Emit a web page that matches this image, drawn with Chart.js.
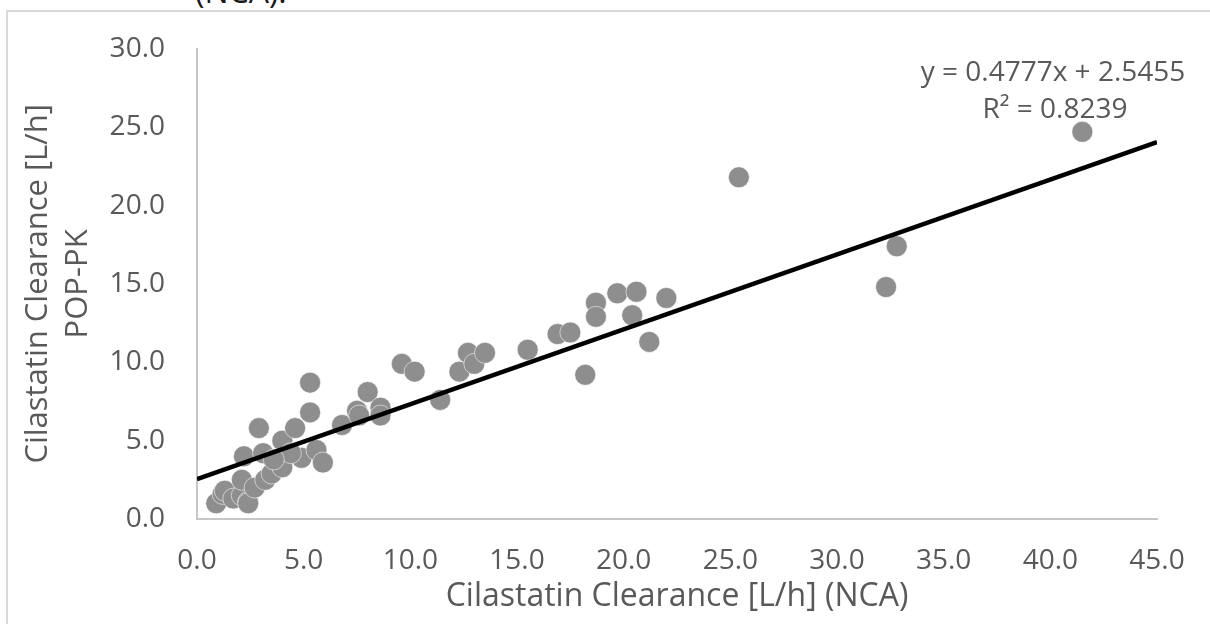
<!DOCTYPE html>
<html>
<head>
<meta charset="utf-8">
<script src="https://cdn.jsdelivr.net/npm/chart.js@4.4.1/dist/chart.umd.min.js"></script>
<style>
    html, body { margin: 0; padding: 0; background: #fff; overflow: hidden; }
    #frame {
        position: absolute; left: 6px; top: 10px; width: 1300px; height: 700px;
        border: 2px solid #d9d9d9;
    }
    #caption {
        position: absolute; left: 195px; top: -25px; margin: 0;
        font: 32px/32px "Open Sans", sans-serif; color: #1a1a1a; white-space: nowrap;
    }
    #wrap { position: absolute; left: 0; top: 0; width: 1210px; height: 624px; }
</style>
</head>
<body>
<div id="frame"></div>
<p id="caption">(NCA).</p>
<div id="wrap"><canvas id="clearanceChart" width="1210" height="624"></canvas></div>
<script>
// Cilastatin clearance: NCA (x) vs POP-PK (y), L/h
const ncaClearance = [
    0.9, 1.2, 1.3, 1.7, 2.1, 2.4, 2.4, 2.1, 2.2, 2.7,
    3.2, 3.5, 3.1, 2.9, 4.0, 4.0, 4.6, 4.9, 5.6, 5.9,
    5.3, 5.3, 4.4, 3.6, 6.8, 7.5, 7.6, 8.0, 8.6, 8.6,
    9.6, 10.2, 11.4, 12.3, 12.7, 13.0, 13.5, 15.5, 16.9, 17.5,
    18.2, 18.7, 18.7, 19.7, 20.6, 20.4, 21.2, 22.0, 25.4, 32.3,
    32.8, 41.5
];
const popPkClearance = [
    1.0, 1.6, 1.8, 1.3, 1.5, 1.1, 1.0, 2.5, 4.0, 2.0,
    2.5, 2.9, 4.2, 5.8, 3.3, 5.0, 5.8, 3.9, 4.4, 3.6,
    6.8, 8.7, 4.2, 3.8, 6.0, 6.9, 6.6, 8.1, 7.1, 6.6,
    9.9, 9.4, 7.6, 9.4, 10.6, 9.9, 10.6, 10.8, 11.8, 11.9,
    9.2, 13.8, 12.9, 14.4, 14.5, 13.0, 11.3, 14.1, 21.8, 14.8,
    17.4, 24.7
];

// Linear trendline y = slope * x + intercept
const slope = 0.4777;
const intercept = 2.5455;
const rSquared = 0.8239;

const xTicks = [0, 45, 5];
const yTicks = [0, 30, 5];

const tickFont = { family: 'Open Sans', size: 28 };
const textColor = '#595959';

const points = ncaClearance.map((x, i) => ({ x: x, y: popPkClearance[i] }));
const trend = [xTicks[0], xTicks[1]].map(x => ({ x: x, y: slope * x + intercept }));

// Equation + R² text in the upper right
const equationLabel = {
    id: 'equationLabel',
    afterDatasetsDraw(chart) {
        const ctx = chart.ctx;
        ctx.save();
        ctx.font = '28px "Open Sans"';
        ctx.fillStyle = textColor;
        ctx.textAlign = 'center';
        ctx.textBaseline = 'middle';
        ctx.fillText(`y = ${slope}x + ${intercept}`, 1053, 73);
        ctx.fillText(`R² = ${rSquared}`, 1055, 110);
        ctx.restore();
    }
};

new Chart(document.getElementById('clearanceChart'), {
    type: 'scatter',
    data: {
        datasets: [{
            type: 'line',
            data: trend,
            borderColor: '#000',
            borderWidth: 4.5,
            pointRadius: 0,
            fill: false,
            order: 0
        }, {
            data: points,
            backgroundColor: '#8e8e8e',
            borderColor: 'rgba(255, 255, 255, 0.55)',
            borderWidth: 1,
            pointRadius: 10.5,
            order: 1
        }]
    },
    options: {
        responsive: false,
        animation: false,
        events: [],
        layout: { padding: { top: 47, right: 53, left: 0, bottom: 0 } },
        plugins: {
            legend: { display: false },
            tooltip: { enabled: false }
        },
        scales: {
            x: {
                type: 'linear',
                min: xTicks[0],
                max: xTicks[1],
                afterFit: (scale) => { scale.height = 105; },
                grid: { display: false, drawTicks: false },
                border: { color: '#c6c6c6', width: 2 },
                ticks: {
                    stepSize: xTicks[2],
                    padding: 25,
                    color: textColor,
                    font: tickFont,
                    maxRotation: 0,
                    callback: (v) => v.toFixed(1)
                },
                title: {
                    display: true,
                    text: 'Cilastatin Clearance [L/h] (NCA)',
                    color: textColor,
                    font: { family: 'Open Sans', size: 32 },
                    padding: { top: 0, bottom: 8 }
                }
            },
            y: {
                type: 'linear',
                min: yTicks[0],
                max: yTicks[1],
                afterFit: (scale) => { scale.width = 197; },
                grid: { display: false, drawTicks: false },
                border: { color: '#c6c6c6', width: 2 },
                ticks: {
                    stepSize: yTicks[2],
                    padding: 32,
                    color: textColor,
                    font: tickFont,
                    callback: (v) => v.toFixed(1)
                },
                title: {
                    display: true,
                    text: ['Cilastatin Clearance [L/h]', 'POP-PK'],
                    color: textColor,
                    font: { family: 'Open Sans', size: 31, lineHeight: 1.3 },
                    padding: { top: 18, bottom: 0 }
                }
            }
        }
    },
    plugins: [equationLabel]
});
</script>
</body>
</html>
